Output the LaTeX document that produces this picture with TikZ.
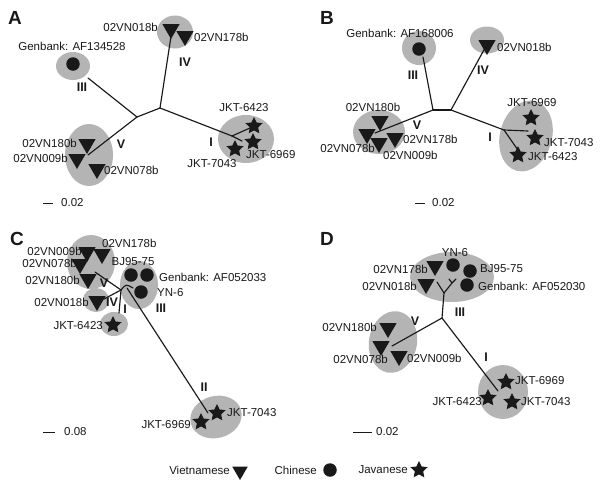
\documentclass[tikz,border=0pt]{standalone}
\usepackage{fontspec}
\setmainfont{Liberation Sans}
\usetikzlibrary{shapes.geometric}
\definecolor{blobgray}{RGB}{180,180,180}
\definecolor{symblack}{RGB}{25,25,25}
\tikzset{
  blob/.style={ellipse, fill=blobgray, draw=none, inner sep=0pt},
  tri/.style={regular polygon, regular polygon sides=3, shape border rotate=180, fill=symblack, inner sep=0pt, minimum size=20pt},
  dotsym/.style={circle, fill=symblack, inner sep=0pt, minimum size=13.5pt},
  starsym/.style={star, star points=5, star point ratio=2.05, fill=symblack, inner sep=0pt, minimum size=18pt},
  lab/.style={font=\fontsize{11.5}{12}\selectfont, inner sep=0pt, text=symblack},
  rom/.style={font=\bfseries\fontsize{12.5}{12.5}\selectfont, inner sep=0pt, text=symblack},
  panel/.style={font=\bfseries\fontsize{19}{19}\selectfont, inner sep=0pt, text=symblack},
  branch/.style={line width=1.15pt, draw=symblack, line cap=round},
  scalebar/.style={line width=1pt, draw=symblack}
}
\begin{document}
\begin{tikzpicture}[x=1pt, y=-1pt]
\useasboundingbox[fill=white] (0,0) rectangle (600,483);

% ================= Panel A =================
\node[panel] (pA) at (15,18) {A};
\node[blob, minimum width=36pt, minimum height=33pt] (AeIV) at (175,32) {};
\node[blob, minimum width=34pt, minimum height=28pt] (AeIII) at (73,66) {};
\node[blob, minimum width=48pt, minimum height=62pt] (AeV) at (89,155) {};
\node[blob, minimum width=56pt, minimum height=48pt] (AeI) at (246,139) {};
\coordinate (An1) at (137,117);
\coordinate (An2) at (160,108);
\coordinate (AtIII) at (88,78);
\coordinate (AtIV) at (172,30);
\coordinate (AfI) at (232,136);
\coordinate (AtI1) at (250,128);
\coordinate (AtI2) at (242,141);
\coordinate (AtV) at (88,155);
\draw[branch] (An1) -- (An2);
\draw[branch] (An1) -- (AtIII);
\draw[branch] (An1) -- (AtV);
\draw[branch] (An2) -- (AtIV);
\draw[branch] (An2) -- (AfI);
\draw[branch] (AfI) -- (AtI1);
\draw[branch] (AfI) -- (AtI2);
\node[tri] (At1) at (171,29) {};
\node[tri] (At2) at (185,36) {};
\node[dotsym] (Ad1) at (73,64) {};
\node[tri] (At3) at (87,144) {};
\node[tri] (At4) at (77,159) {};
\node[tri] (At5) at (97,169) {};
\node[starsym] (As1) at (254,126) {};
\node[starsym] (As2) at (253,142) {};
\node[starsym] (As3) at (235,149) {};
\node[lab, anchor=east] (Al1) at (158,27) {02VN018b};
\node[lab, anchor=west] (Al2) at (194,37) {02VN178b};
\node[lab] (Al3) at (72,46) {Genbank: AF134528};
\node[lab, anchor=east] (Al4) at (77,143) {02VN180b};
\node[lab, anchor=east] (Al5) at (68,158) {02VN009b};
\node[lab, anchor=west] (Al6) at (104,170) {02VN078b};
\node[lab] (Al7) at (244,108) {JKT-6423};
\node[lab, anchor=west] (Al8) at (246,155) {JKT-6969};
\node[lab] (Al9) at (212,164) {JKT-7043};
\node[rom] (ArIV) at (185,62) {IV};
\node[rom] (ArIII) at (82,87) {III};
\node[rom] (ArV) at (121,144) {V};
\node[rom] (ArI) at (211,142) {I};
\coordinate (As0) at (43,203);
\coordinate (As9) at (53,203);
\draw[scalebar] (As0) -- (As9);
\node[lab, anchor=west] (Asc) at (61,203) {0.02};

% ================= Panel B =================
\node[panel] (pB) at (327,18) {B};
\node[blob, minimum width=34pt, minimum height=34pt] (BeIII) at (419,48) {};
\node[blob, minimum width=34pt, minimum height=27pt] (BeIV) at (487,40) {};
\node[blob, minimum width=52pt, minimum height=44pt] (BeV) at (379,132) {};
\node[blob, minimum width=52pt, minimum height=72pt, rotate=-15] (BeI) at (526,136) {};
\coordinate (Bn1) at (433,110);
\coordinate (Bn2) at (451,110);
\coordinate (BtIII) at (423,57);
\coordinate (BtIV) at (485,48);
\coordinate (BfI) at (504,130);
\coordinate (BtI1) at (528,131);
\coordinate (BtI2) at (520,153);
\coordinate (BtV) at (375,133);
\draw[branch] (Bn1) -- (Bn2);
\draw[branch] (Bn1) -- (BtIII);
\draw[branch] (Bn1) -- (BtV);
\draw[branch] (Bn2) -- (BtIV);
\draw[branch] (Bn2) -- (BfI);
\draw[branch] (BfI) -- (BtI1);
\draw[branch] (BfI) -- (BtI2);
\node[dotsym] (Bd1) at (419,49) {};
\node[tri] (Bt1) at (487,45) {};
\node[tri] (Bt2) at (380,121) {};
\node[tri] (Bt3) at (367,134) {};
\node[tri] (Bt4) at (379,143) {};
\node[tri] (Bt5) at (395,138) {};
\node[starsym] (Bs1) at (531,118) {};
\node[starsym] (Bs2) at (535,138) {};
\node[starsym] (Bs3) at (518,155) {};
\node[lab] (Bl1) at (400,33) {Genbank: AF168006};
\node[lab, anchor=west] (Bl2) at (497,47) {02VN018b};
\node[lab] (Bl3) at (373,107) {02VN180b};
\node[lab, anchor=east] (Bl4) at (375,148) {02VN078b};
\node[lab, anchor=west] (Bl5) at (383,155) {02VN009b};
\node[lab, anchor=west] (Bl6) at (403,139) {02VN178b};
\node[lab] (Bl7) at (532,103) {JKT-6969};
\node[lab, anchor=west] (Bl8) at (544,143) {JKT-7043};
\node[lab, anchor=west] (Bl9) at (528,157) {JKT-6423};
\node[rom] (BrIII) at (413,75) {III};
\node[rom] (BrIV) at (483,70) {IV};
\node[rom] (BrV) at (417,125) {V};
\node[rom] (BrI) at (490,137) {I};
\coordinate (Bs0) at (415,203);
\coordinate (Bs9) at (425,203);
\draw[scalebar] (Bs0) -- (Bs9);
\node[lab, anchor=west] (Bsc) at (432,203) {0.02};

% ================= Panel C =================
\node[panel] (pC) at (17,239) {C};
\node[blob, minimum width=48pt, minimum height=54pt] (CeV) at (91,262) {};
\node[blob, minimum width=26pt, minimum height=24pt] (CeIV) at (96,300) {};
\node[blob, minimum width=28pt, minimum height=24pt] (CeI) at (114,324) {};
\node[blob, minimum width=38pt, minimum height=48pt] (CeIII) at (139,285) {};
\node[blob, minimum width=52pt, minimum height=42pt, rotate=15] (CeII) at (216,417) {};
\coordinate (Cn) at (121,290);
\coordinate (CtV) at (95,272);
\coordinate (CtIV) at (104,299);
\coordinate (CtI) at (119,313);
\coordinate (CtIII) at (133,288);
\coordinate (Cn2) at (127,288);
\coordinate (CtII) at (208,413);
\draw[branch] (Cn) -- (CtV);
\draw[branch] (Cn) -- (CtIV);
\draw[branch] (Cn) -- (CtI);
\draw[branch] (Cn) .. controls (126,284) .. (CtIII);
\draw[branch] (Cn2) -- (CtII);
\node[tri] (Ct1) at (87,252) {};
\node[tri] (Ct2) at (102,254) {};
\node[tri] (Ct3) at (80,264) {};
\node[tri] (Ct4) at (88,279) {};
\node[tri] (Ct5) at (97,301) {};
\node[dotsym] (Cd1) at (131,275) {};
\node[dotsym] (Cd2) at (147,275) {};
\node[dotsym] (Cd3) at (141,292) {};
\node[starsym] (Cs1) at (113,325) {};
\node[starsym] (Cs2) at (201,422) {};
\node[starsym] (Cs3) at (217,413) {};
\node[lab, anchor=east] (Cl1) at (82,251) {02VN009b};
\node[lab, anchor=west] (Cl2) at (102,243) {02VN178b};
\node[lab, anchor=east] (Cl3) at (77,263) {02VN078b};
\node[lab, anchor=east] (Cl4) at (80,280) {02VN180b};
\node[lab] (Cl5) at (133,262) {BJ95-75};
\node[lab, anchor=west] (Cl6) at (159,277) {Genbank: AF052033};
\node[lab, anchor=west] (Cl7) at (157,293) {YN-6};
\node[lab, anchor=east] (Cl8) at (89,302) {02VN018b};
\node[lab, anchor=east] (Cl9) at (103,326) {JKT-6423};
\node[lab, anchor=east] (Cl10) at (191,425) {JKT-6969};
\node[lab, anchor=west] (Cl11) at (227,413) {JKT-7043};
\node[rom] (CrV) at (104,283) {V};
\node[rom] (CrIV) at (112,302) {IV};
\node[rom] (CrI) at (125,309) {I};
\node[rom] (CrIII) at (161,308) {III};
\node[rom] (CrII) at (204,387) {II};
\coordinate (Cs0) at (43,432);
\coordinate (Cs9) at (55,432);
\draw[scalebar] (Cs0) -- (Cs9);
\node[lab, anchor=west] (Csc) at (64,432) {0.08};

% ================= Panel D =================
\node[panel] (pD) at (327,239) {D};
\node[blob, minimum width=84pt, minimum height=50pt] (DeIII) at (452,277) {};
\node[blob, minimum width=48pt, minimum height=62pt, rotate=-10] (DeV) at (393,342) {};
\node[blob, minimum width=50pt, minimum height=54pt] (DeI) at (503,392) {};
\coordinate (Dn) at (442,318);
\coordinate (Df) at (444,293);
\coordinate (Dt1) at (437,282);
\coordinate (Df2) at (452,283);
\coordinate (Dt2) at (449,279);
\coordinate (Dt3) at (456,279);
\coordinate (DtV) at (392,346);
\coordinate (DtI) at (498,391);
\draw[branch] (Dn) -- (Df);
\draw[branch] (Df) -- (Dt1);
\draw[branch] (Df) -- (Df2);
\draw[branch] (Df2) -- (Dt2);
\draw[branch] (Df2) -- (Dt3);
\draw[branch] (Dn) -- (DtV);
\draw[branch] (Dn) -- (DtI);
\node[tri] (Dt4) at (435,266) {};
\node[tri] (Dt5) at (426,284) {};
\node[dotsym] (Dd1) at (453,265) {};
\node[dotsym] (Dd2) at (470,271) {};
\node[dotsym] (Dd3) at (467,285) {};
\node[tri] (Dt6) at (388,328) {};
\node[tri] (Dt7) at (381,346) {};
\node[tri] (Dt8) at (399,356) {};
\node[starsym] (Ds1) at (506,382) {};
\node[starsym] (Ds2) at (488,398) {};
\node[starsym] (Ds3) at (512,402) {};
\node[lab] (Dl1) at (455,253) {YN-6};
\node[lab, anchor=east] (Dl2) at (428,269) {02VN178b};
\node[lab, anchor=west] (Dl3) at (480,269) {BJ95-75};
\node[lab, anchor=east] (Dl4) at (417,286) {02VN018b};
\node[lab, anchor=west] (Dl5) at (478,286) {Genbank: AF052030};
\node[lab, anchor=east] (Dl6) at (377,327) {02VN180b};
\node[lab, anchor=east] (Dl7) at (388,359) {02VN078b};
\node[lab, anchor=west] (Dl8) at (407,358) {02VN009b};
\node[lab, anchor=west] (Dl9) at (515,381) {JKT-6969};
\node[lab, anchor=east] (Dl10) at (482,402) {JKT-6423};
\node[lab, anchor=west] (Dl11) at (521,402) {JKT-7043};
\node[rom] (DrIII) at (460,312) {III};
\node[rom] (DrV) at (415,321) {V};
\node[rom] (DrI) at (486,357) {I};
\coordinate (Ds0) at (353,432);
\coordinate (Ds9) at (372,432);
\draw[scalebar] (Ds0) -- (Ds9);
\node[lab, anchor=west] (Dsc) at (376,432) {0.02};

% ================= Legend =================
\node[lab, anchor=east] (Lv) at (230,470) {Vietnamese};
\node[tri, minimum size=18pt] (Lt) at (240,471) {};
\node[lab, anchor=east] (Lc) at (317,470) {Chinese};
\node[dotsym] (Ld) at (330,470) {};
\node[lab, anchor=east] (Lj) at (408,470) {Javanese};
\node[starsym] (Ls) at (419,470) {};
\end{tikzpicture}
\end{document}
